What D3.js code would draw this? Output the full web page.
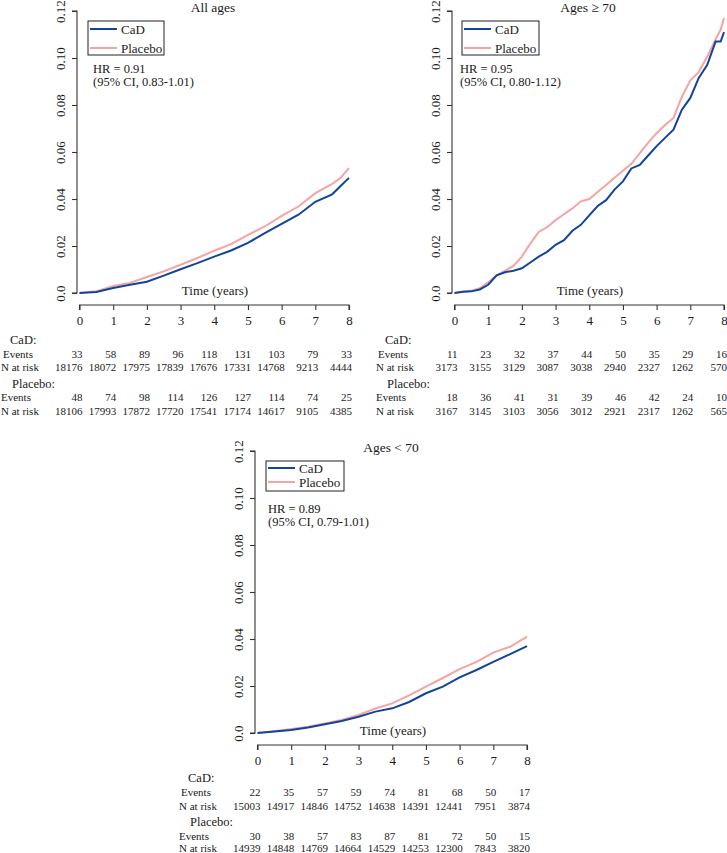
<!DOCTYPE html>
<html><head><meta charset="utf-8">
<script src="https://cdn.jsdelivr.net/npm/d3@7"></script>
<style>
body{margin:0;background:#fff;}
</style></head>
<body><svg id="chart" width="727" height="853"></svg>
<script>
// ---------- data ----------
const years = [0,1,2,3,4,5,6,7,8];
const yTicks = [0,0.02,0.04,0.06,0.08,0.10,0.12];
const yTickLabels = ["0.0","0.02","0.04","0.06","0.08","0.10","0.12"];
const seriesNames = ["CaD","Placebo"];
const colors = {CaD:"#12449a", Placebo:"#f5a3a3"};

// All ages
const allTimes = [0,0.5,1,1.5,2,2.5,3,3.5,4,4.5,5,5.5,6,6.5,7,7.5,7.75,8];
const allPlacebo = [0,0.0007,0.003,0.0043,0.0068,0.0092,0.012,0.0149,0.018,0.0208,0.0247,0.0283,0.0328,0.0368,0.0425,0.0464,0.049,0.0532];
const allCaD     = [0,0.0004,0.0021,0.0035,0.0048,0.0074,0.0101,0.0127,0.0155,0.0181,0.0213,0.0255,0.0294,0.0333,0.0388,0.042,0.0455,0.049];

// Ages >= 70
const oldTimes = [0,0.25,0.5,0.75,1,1.25,1.5,1.75,2,2.25,2.5,2.75,3,3.25,3.5,3.75,4,4.25,4.5,4.75,5,5.25,5.5,5.75,6,6.25,6.5,6.75,7,7.25,7.5,7.75,7.9,8];
const oldPlacebo = [0,0.0005,0.001,0.002,0.0045,0.0075,0.0095,0.0115,0.0155,0.021,0.026,0.028,0.031,0.0335,0.036,0.039,0.040,0.043,0.046,0.049,0.052,0.055,0.0595,0.064,0.068,0.0715,0.0745,0.0835,0.0905,0.094,0.1005,0.108,0.112,0.117];
const oldCaD     = [0,0.0005,0.0007,0.0015,0.0035,0.0075,0.0088,0.0095,0.0105,0.013,0.0155,0.0175,0.0205,0.0225,0.0265,0.029,0.033,0.037,0.0395,0.044,0.0475,0.053,0.0545,0.0585,0.0625,0.066,0.0695,0.078,0.083,0.0915,0.097,0.107,0.107,0.111];

// Ages < 70
const youngTimes = [0,0.5,1,1.5,2,2.5,3,3.5,4,4.5,5,5.5,6,6.5,7,7.5,8];
const youngPlacebo = [0,0.0008,0.0017,0.0027,0.0041,0.0055,0.0077,0.0104,0.0126,0.016,0.0197,0.0234,0.0272,0.0303,0.0342,0.0367,0.041];
const youngCaD     = [0,0.0006,0.0013,0.0023,0.0037,0.0051,0.0069,0.0091,0.0105,0.0132,0.0169,0.0197,0.0237,0.0268,0.0303,0.0336,0.037];

// risk tables
const allEventsCaD = [33,58,89,96,118,131,103,79,33];
const allRiskCaD = [18176,18072,17975,17839,17676,17331,14768,9213,4444];
const allEventsPlacebo = [48,74,98,114,126,127,114,74,25];
const allRiskPlacebo = [18106,17993,17872,17720,17541,17174,14617,9105,4385];

const oldEventsCaD = [11,23,32,37,44,50,35,29,16];
const oldRiskCaD = [3173,3155,3129,3087,3038,2940,2327,1262,570];
const oldEventsPlacebo = [18,36,41,31,39,46,42,24,10];
const oldRiskPlacebo = [3167,3145,3103,3056,3012,2921,2317,1262,565];

const youngEventsCaD = [22,35,57,59,74,81,68,50,17];
const youngRiskCaD = [15003,14917,14846,14752,14638,14391,12441,7951,3874];
const youngEventsPlacebo = [30,38,57,83,87,81,72,50,15];
const youngRiskPlacebo = [14939,14848,14769,14664,14529,14253,12300,7843,3820];

// ---------- drawing ----------
const FONT = "'Liberation Serif', 'Times New Roman', Times, 'DejaVu Serif', serif";
const svg = d3.select("#chart").attr("font-family", FONT);

function txt(g, x, y, s, size, anchor){
  return g.append("text").attr("x",x).attr("y",y)
    .attr("font-family",FONT).attr("font-size",size).attr("fill","#1a1a1a")
    .attr("text-anchor",anchor||"start").text(s);
}

function drawPanel(p){
  const g = svg.append("g");
  const ox = p.ox, oy = p.oy;
  const x = d3.scaleLinear().domain([0,8]).range([ox+2.5, ox+272]);
  const y = d3.scaleLinear().domain([0,0.12]).range([oy, oy-282]);

  // y axis
  const ya = g.append("g").attr("transform",`translate(${ox},0)`)
    .call(d3.axisLeft(y).tickValues(yTicks).tickSize(5).tickFormat((d,i)=>yTickLabels[i]));
  ya.attr("font-family",FONT).attr("font-size",13);
  ya.select(".domain").attr("stroke","#333").attr("stroke-width",1.1).attr("d",`M-5,${y(0)}H0V${y(0.12)}H-5`);
  ya.selectAll(".tick line").attr("stroke","#333").attr("stroke-width",1.1);
  ya.selectAll(".tick text").attr("x",null).attr("dy",null)
    .attr("transform","translate(-12,0) rotate(-90)").attr("text-anchor","middle").attr("fill","#1a1a1a");

  // x axis
  const xa = g.append("g").attr("transform",`translate(0,${oy+12})`)
    .call(d3.axisBottom(x).tickValues(years).tickSize(5).tickFormat(d3.format("d")));
  xa.attr("font-family",FONT).attr("font-size",13);
  xa.select(".domain").attr("stroke","#333").attr("stroke-width",1.1).attr("d",`M${x(0)},5V0H${x(8)}V5`);
  xa.selectAll(".tick line").attr("stroke","#333").attr("stroke-width",1.1);
  xa.selectAll(".tick text").attr("y",null).attr("dy",null).attr("transform","translate(0,20)").attr("fill","#1a1a1a");

  // curves
  const line = d3.line().x(d=>x(d[0])).y(d=>y(d[1]));
  [["Placebo",p.placebo],["CaD",p.cad]].forEach(([name,vals])=>{
    g.append("path").datum(p.times.map((t,i)=>[t,vals[i]]))
      .attr("d",line).attr("fill","none").attr("stroke",colors[name]).attr("stroke-width",2);
  });

  // title
  txt(g, ox+136, oy-281, p.title, 13.5, "middle");
  // x label
  txt(g, ox+138, oy+2, "Time (years)", 13, "middle");

  // legend
  const L = p.legend;
  g.append("rect").attr("x",ox+L.x).attr("y",oy-272).attr("width",L.w).attr("height",L.h)
    .attr("fill","#fff").attr("stroke","#222").attr("stroke-width",1);
  seriesNames.forEach((s,i)=>{
    const ly = oy-272+L.first+i*L.gap;
    g.append("line").attr("x1",ox+L.x+2).attr("x2",ox+L.x+29).attr("y1",ly).attr("y2",ly)
      .attr("stroke",colors[s]).attr("stroke-width",2);
    txt(g, ox+L.x+33, ly+4.5, s, 13);
  });

  // HR
  txt(g, ox+p.hrx, oy-220, p.hr, 12.5);
  txt(g, ox+p.hrx, oy-207, p.ci, 12.5);

  // risk table
  const T = p.table;
  const groups = [["CaD:",p.evC,p.nC],["Placebo:",p.evP,p.nP]];
  groups.forEach((gr,k)=>{
    const b = T[k];
    txt(g, ox-(k===0?67:65), b[0], gr[0], 12.5);
    txt(g, ox-(k===0?74:76), b[1], "Events", 11);
    txt(g, ox-76, b[2], "N at risk", 11);
    years.forEach((t,i)=>{
      txt(g, x(t)+3, b[1], gr[1][i], 11, "end");
      txt(g, x(t)+3, b[2], gr[2][i], 11, "end");
    });
  });
}

drawPanel({ox:77, oy:293, title:"All ages", times:allTimes, cad:allCaD, placebo:allPlacebo,
  legend:{x:11,w:76,h:34,first:8,gap:19}, hrx:16, hr:"HR = 0.91", ci:"(95% CI, 0.83-1.01)",
  evC:allEventsCaD, nC:allRiskCaD, evP:allEventsPlacebo, nP:allRiskPlacebo,
  table:[[344,358,371],[388,401,415]]});

drawPanel({ox:452, oy:293, title:"Ages \u2265 70", times:oldTimes, cad:oldCaD, placebo:oldPlacebo,
  legend:{x:10,w:77,h:34,first:8,gap:19}, hrx:8, hr:"HR = 0.95", ci:"(95% CI, 0.80-1.12)",
  evC:oldEventsCaD, nC:oldRiskCaD, evP:oldEventsPlacebo, nP:oldRiskPlacebo,
  table:[[344,358,371],[388,401,415]]});

drawPanel({ox:255, oy:733, title:"Ages < 70", times:youngTimes, cad:youngCaD, placebo:youngPlacebo,
  legend:{x:11,w:78,h:30,first:7,gap:14}, hrx:13, hr:"HR = 0.89", ci:"(95% CI, 0.79-1.01)",
  evC:youngEventsCaD, nC:youngRiskCaD, evP:youngEventsPlacebo, nP:youngRiskPlacebo,
  table:[[782,796,810],[826,840,852]]});
</script></body></html>
